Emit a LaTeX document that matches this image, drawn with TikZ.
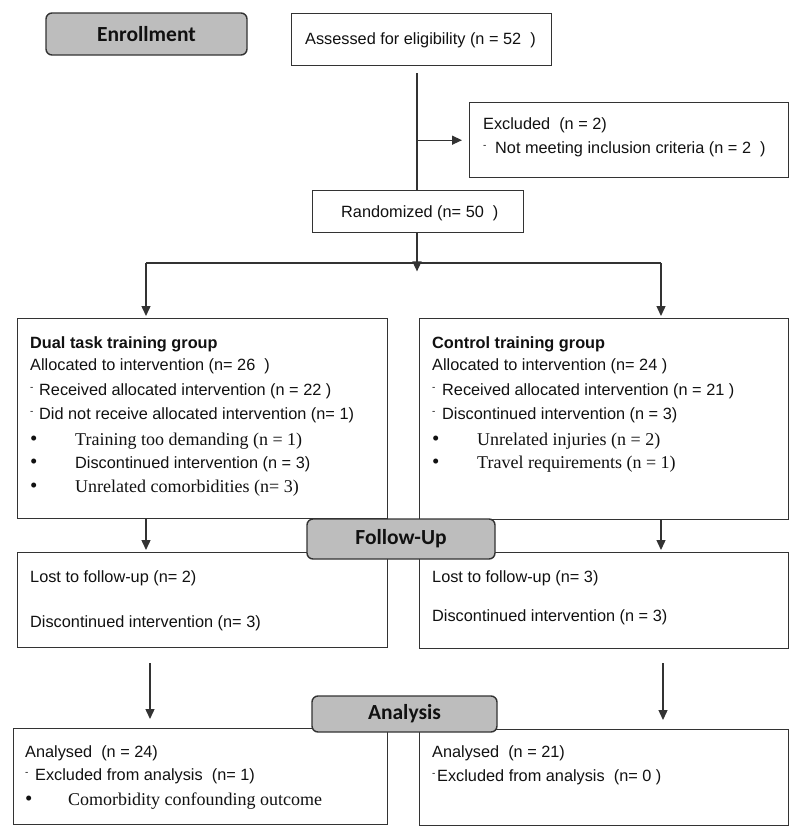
\documentclass[tikz,border=0pt]{standalone}
\usepackage{fontspec}
\setmainfont{Liberation Sans}
\newfontfamily\serifF{Liberation Serif}
\newfontfamily\labF{Carlito}
\usetikzlibrary{arrows.meta}
\definecolor{edge}{HTML}{333333}
\definecolor{labfill}{HTML}{BDBDBD}
\definecolor{ink}{HTML}{111111}
\newcommand\sdash[1]{\makebox[#1][l]{\raisebox{0.55ex}{\fontsize{10}{10}\selectfont -}}}
\newcommand\bul[1]{\makebox[#1][l]{\serifF\fontsize{21}{21}\selectfont\textbullet}}
\tikzset{
 box/.style={draw=edge, line width=1.4pt, fill=white, inner sep=0pt, anchor=north west},
 labbox/.style={draw=edge, line width=1.4pt, fill=labfill, rounded corners=6pt, inner sep=0pt, font=\labF\bfseries\fontsize{21.5}{24}\selectfont, text=ink},
 txt/.style={anchor=base west, inner sep=0pt, text=ink, font=\fontsize{16.3}{19}\selectfont},
 btxt/.style={txt, font=\bfseries\fontsize{16.3}{19}\selectfont},
 stxt/.style={txt, font=\serifF\fontsize{18}{21}\selectfont},
 conn/.style={draw=edge, line width=1.4pt},
 arr/.style={conn, -{Triangle[length=10pt,width=9pt]}},
}
\begin{document}
\begin{tikzpicture}[x=1pt,y=-1pt]
\useasboundingbox (0,0) rectangle (800,836);
% boxes
\node[box, minimum width=260pt, minimum height=52pt] (assess) at (291,13) {};
\node[box, minimum width=319pt, minimum height=75pt] (excl) at (469,102) {};
\node[box, minimum width=211pt, minimum height=42pt] (rand) at (312,190) {};
\node[box, minimum width=370pt, minimum height=200pt] (dual) at (17,318) {};
\node[box, minimum width=369pt, minimum height=201pt] (ctrl) at (419,318) {};
\node[box, minimum width=370pt, minimum height=95pt] (fuL) at (17,552) {};
\node[box, minimum width=369pt, minimum height=96pt] (fuR) at (419,552) {};
\node[box, minimum width=374pt, minimum height=96pt] (anL) at (13,728) {};
\node[box, minimum width=369pt, minimum height=96pt] (anR) at (419,729) {};
% texts
\node[txt] (tA) at (305,44) {Assessed for eligibility (n = 52\ \ )};
\node[txt] (tE1) at (483,129) {Excluded\ \ (n = 2)};
\node[txt] (tE2) at (483,153) {\sdash{12pt}Not meeting inclusion criteria (n = 2\ \ )};
\node[txt] (tR) at (341,217) {Randomized (n= 50\ \ )};
% dual
\node[btxt] (d1) at (30,348) {Dual task training group};
\node[txt] (d2) at (30,370) {Allocated to intervention (n= 26\ \ )};
\node[txt] (d3) at (30,395) {\sdash{9pt}Received allocated intervention (n = 22 )};
\node[txt] (d4) at (30,419) {\sdash{9pt}Did not receive allocated intervention (n= 1)};
\node[stxt] (d5) at (30,445) {\bul{45pt}Training too demanding (n = 1)};
\node[txt] (d6) at (30,468) {\bul{45pt}Discontinued intervention (n = 3)};
\node[stxt] (d7) at (30,492) {\bul{45pt}Unrelated comorbidities (n= 3)};
% control
\node[btxt] (c1) at (432,348) {Control training group};
\node[txt] (c2) at (432,370) {Allocated to intervention (n= 24 )};
\node[txt] (c3) at (432,395) {\sdash{10pt}Received allocated intervention (n = 21 )};
\node[txt] (c4) at (432,419) {\sdash{10pt}Discontinued intervention (n = 3)};
\node[stxt] (c5) at (432,445) {\bul{45pt}Unrelated injuries (n = 2)};
\node[stxt] (c6) at (432,468) {\bul{45pt}Travel requirements (n = 1)};
% follow-up
\node[txt] (f1) at (30,582) {Lost to follow-up (n= 2)};
\node[txt] (f2) at (30,627) {Discontinued intervention (n= 3)};
\node[txt] (g1) at (432,582) {Lost to follow-up (n= 3)};
\node[txt] (g2) at (432,621) {Discontinued intervention (n = 3)};
% analysis
\node[txt] (a1) at (25,757) {Analysed\ \ (n = 24)};
\node[txt] (a2) at (25,780) {\sdash{10pt}Excluded from analysis\ \ (n= 1)};
\node[stxt] (a3) at (25,805) {\bul{43pt}Comorbidity confounding outcome};
\node[txt] (b1) at (432,757) {Analysed\ \ (n = 21)};
\node[txt] (b2) at (432,781) {\sdash{5pt}Excluded from analysis\ \ (n= 0 )};
% connector coordinates
\coordinate (vx) at (417,0);
\coordinate (jl) at (146,263);
\coordinate (jr) at (661,263);
\coordinate (cl2) at (150,0);
\coordinate (cr2) at (663,0);
% connectors
\draw[conn, shorten <=7pt] (vx |- assess.south) -- (vx |- rand.north);
\draw[arr, shorten >=7pt] (vx |- excl.west) -- (excl.west);
\draw[arr] (vx |- rand.south) -- ++(0,38);
\draw[conn] (jl) -- (jr);
\draw[arr, shorten >=2pt] (jl) -- (jl |- dual.north);
\draw[arr, shorten >=2pt] (jr) -- (jr |- ctrl.north);
\draw[arr, shorten >=2pt] (jl |- dual.south) -- (jl |- fuL.north);
\draw[arr, shorten >=2pt] (jr |- ctrl.south) -- (jr |- fuR.north);
\draw[arr, shorten <=15pt, shorten >=9pt] (cl2 |- fuL.south) -- (cl2 |- anL.north);
\draw[arr, shorten <=14pt, shorten >=9pt] (cr2 |- fuR.south) -- (cr2 |- anR.north);
% stage labels
\node[labbox, minimum width=201pt, minimum height=42pt] (enroll) at (146.5,34) {Enrollment};
\node[labbox, minimum width=188pt, minimum height=40pt] (follow) at (401,539) {Follow-Up};
\node[labbox, minimum width=185pt, minimum height=36pt] (analysis) at (404.5,714) {Analysis};
\end{tikzpicture}
\end{document}
